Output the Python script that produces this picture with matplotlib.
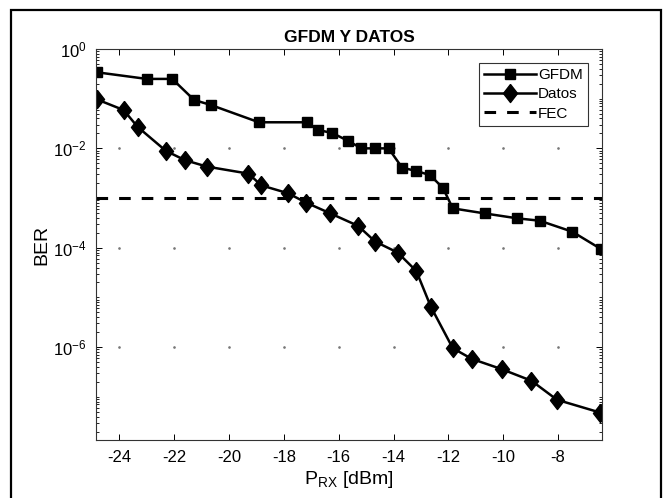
import numpy as np
import matplotlib
matplotlib.use("Agg")
import matplotlib.pyplot as plt
from matplotlib.patches import Rectangle
from matplotlib.ticker import LogLocator, NullFormatter, FixedLocator

plt.rcParams['font.family'] = ['Liberation Sans', 'DejaVu Sans']
plt.rcParams['mathtext.default'] = 'regular'

# GFDM curve (squares)
gfdm_x = [-24.82, -23.0, -22.07, -21.27, -20.67, -18.91, -17.15, -16.74, -16.24,
          -15.67, -15.17, -14.67, -14.18, -13.69, -13.17, -12.67, -12.2, -11.84,
          -10.67, -9.48, -8.67, -7.48, -6.42]
gfdm_ber = [0.34, 0.25, 0.25, 0.094, 0.075, 0.0335, 0.0335, 0.0234, 0.0204,
            0.0143, 0.0100, 0.0100, 0.0100, 0.0041, 0.0035, 0.0029, 0.0016, 0.00062,
            0.00049, 0.00039, 0.00035, 0.00021, 9.3e-5]

# Datos curve (diamonds)
datos_x = [-24.82, -23.84, -23.33, -22.30, -21.61, -20.81, -19.29, -18.82, -17.85,
           -17.19, -16.30, -15.29, -14.67, -13.85, -13.17, -12.64, -11.84, -11.15,
           -10.06, -8.97, -8.04, -6.46]
datos_ber = [0.097, 0.059, 0.027, 0.0089, 0.0058, 0.0043, 0.0031, 0.0018, 0.00125,
             0.00081, 0.00049, 0.000275, 0.000133, 8.0e-5, 3.4e-5, 6.5e-6, 9.5e-7, 5.8e-7,
             3.6e-7, 2.1e-7, 8.7e-8, 4.8e-8]

fec_level = 1e-3

x_ticks = [-24, -22, -20, -18, -16, -14, -12, -10, -8]
y_ticks = [1e-6, 1e-4, 1e-2, 1e0]

# matlab-like diamond, a bit wider than matplotlib's 'd'
diamond = [(0, 1), (0.78, 0), (0, -1), (-0.78, 0), (0, 1)]

fig = plt.figure(figsize=(6.67, 4.98), dpi=100)
ax = fig.add_axes([0.1439, 0.1165, 0.7586, 0.7851])

# outer frame around the figure
fig.patches.append(Rectangle((0.0165, -0.02), 0.9738, 1.0, transform=fig.transFigure,
                             fill=False, edgecolor='black', linewidth=1.6))

ax.semilogy(gfdm_x, gfdm_ber, 'k-', marker='s', markersize=7.5, linewidth=1.8, label='GFDM')
ax.semilogy(datos_x, datos_ber, 'k-', marker=diamond, markersize=13, linewidth=1.8,
            label='Datos')
ax.axhline(fec_level, color='k', linewidth=2.2, dashes=(3.8, 3.6), label='FEC')

ax.set_xlim(-24.85, -6.4)
ax.set_ylim(1.35e-8, 1)

ax.set_xticks(x_ticks)
ax.set_xticklabels([str(v) for v in x_ticks])
ax.yaxis.set_major_locator(FixedLocator(y_ticks))
ax.yaxis.set_minor_locator(LogLocator(base=10, subs=np.arange(1, 10), numticks=30))
ax.yaxis.set_minor_formatter(NullFormatter())

ax.tick_params(which='both', direction='in', top=True, right=True, labelsize=12, colors='k')
ax.tick_params(which='major', length=4, width=0.7, pad=7)
ax.tick_params(which='minor', length=2.2, width=0.6)
for s in ax.spines.values():
    s.set_linewidth(0.8)
    s.set_color('#333333')

# dotted grid: only dots at tick intersections
gx, gy = np.meshgrid(x_ticks, y_ticks[:-1])
ax.plot(gx.ravel(), gy.ravel(), linestyle='none', marker='o', markersize=0.9,
        color='#777777', zorder=0)

ax.set_title('GFDM Y DATOS', fontsize=12.5, fontweight='bold', pad=5)
ax.set_xlabel('P$_{RX}$ [dBm]', fontsize=14, labelpad=3)
ax.set_ylabel('BER', fontsize=14, labelpad=2)

leg = ax.legend(loc='upper right', fontsize=11, frameon=True, fancybox=False,
                handlelength=3.4, handletextpad=0.15, borderpad=0.35,
                labelspacing=0.35, borderaxespad=0.9)
leg.get_frame().set_edgecolor('black')
leg.get_frame().set_linewidth(0.8)

fig.savefig('out.png', dpi=100)
